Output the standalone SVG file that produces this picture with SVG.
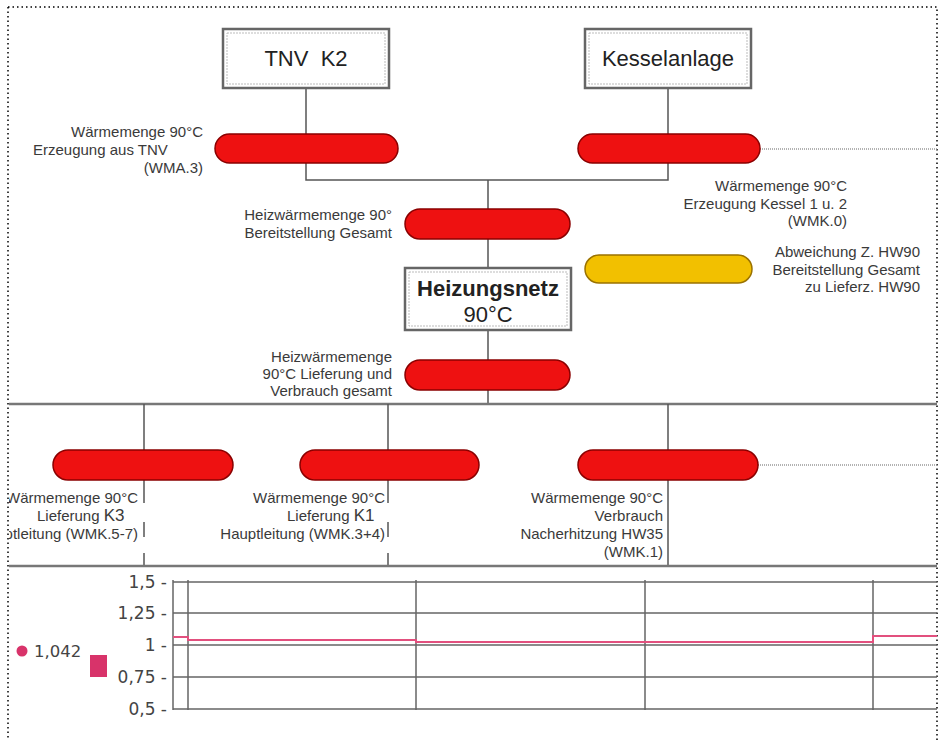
<svg xmlns="http://www.w3.org/2000/svg" width="944" height="740" viewBox="0 0 944 740">
<style>
.lbl{font-family:"Liberation Sans",Arial,sans-serif;font-size:15px;fill:#3a3a3a}
.box{fill:#fff;stroke:#666;stroke-width:2.5}
.boxin{fill:none;stroke:#bbb;stroke-width:1;stroke-dasharray:2,1}
.bt{font-family:"Liberation Sans",Arial,sans-serif;font-size:22px;fill:#222;text-anchor:middle}
.pill{fill:#ee1111;stroke:#8a0000;stroke-width:1.5}
.pilly{fill:#f2c000;stroke:#9a7200;stroke-width:1.5}
.ln{stroke:#555;stroke-width:1.5;fill:none}
.thick{stroke:#777;stroke-width:2.5;fill:none}
.dot{stroke:#999;stroke-width:1.5;stroke-dasharray:1,1;fill:none}
.grid{stroke:#666;stroke-width:1.5;fill:none}
.ax{font-family:"DejaVu Sans",sans-serif;font-size:17px;fill:#444;text-anchor:end}
</style>
<defs>
<clipPath id="frame"><rect x="9" y="8" width="928" height="732"/></clipPath>
</defs>
<rect x="0" y="0" width="944" height="740" fill="#fff"/>
<path d="M8 7H937V740M8 7V740" fill="none" stroke="#000" stroke-width="1.5" stroke-dasharray="1.5,3"/>

<g id="connectors">
<path class="ln" d="M306 88V180H668V88"/>
<path class="ln" d="M488 180V268M488 330V404"/>
<path class="thick" d="M9 404H937"/>
<path class="ln" d="M144 404V503M144 522V537M144 553V566M388 404V503M388 522V537M388 553V566M668 404V566"/>
<path class="thick" d="M9 566H937"/>
<path class="dot" d="M760 149H937M758 465H937"/>
</g>

<g id="tnv">
<rect class="box" x="223" y="29" width="166" height="59"/>
<rect class="boxin" x="227" y="33" width="158" height="51"/>
<text class="bt" x="306" y="66" xml:space="preserve">TNV  K2</text>
</g>
<g id="kessel">
<rect class="box" x="585" y="29" width="166" height="59"/>
<rect class="boxin" x="589" y="33" width="158" height="51"/>
<text class="bt" x="668" y="66">Kesselanlage</text>
</g>
<g id="heizungsnetz">
<rect class="box" x="405" y="268" width="166" height="62"/>
<rect class="boxin" x="409" y="272" width="158" height="54"/>
<text class="bt" x="488" y="296" font-weight="bold" fill="#333" font-size="21">Heizungsnetz</text>
<text class="bt" x="488" y="322">90°C</text>
</g>

<g id="wma3">
<rect class="pill" x="215" y="134" width="183" height="29" rx="14.5"/>
<text class="lbl" x="203" y="137" text-anchor="end">Wärmemenge 90°C</text>
<text class="lbl" x="33" y="155">Erzeugung aus TNV</text>
<text class="lbl" x="203" y="173" text-anchor="end">(WMA.3)</text>
</g>
<g id="wmk0">
<rect class="pill" x="578" y="134" width="182" height="29" rx="14.5"/>
<text class="lbl" x="847" y="191" text-anchor="end">Wärmemenge 90°C</text>
<text class="lbl" x="847" y="209" text-anchor="end">Erzeugung Kessel 1 u. 2</text>
<text class="lbl" x="847" y="226" text-anchor="end">(WMK.0)</text>
</g>
<g id="bereitstellung">
<rect class="pill" x="405" y="209" width="165" height="30" rx="15"/>
<text class="lbl" x="392" y="220" text-anchor="end">Heizwärmemenge 90°</text>
<text class="lbl" x="392" y="238" text-anchor="end">Bereitstellung Gesamt</text>
</g>
<g id="abweichung">
<rect class="pilly" x="585" y="255" width="167" height="28" rx="14"/>
<text class="lbl" x="920" y="257" text-anchor="end">Abweichung Z. HW90</text>
<text class="lbl" x="920" y="275" text-anchor="end">Bereitstellung Gesamt</text>
<text class="lbl" x="920" y="292" text-anchor="end">zu Lieferz. HW90</text>
</g>
<g id="lieferung-gesamt">
<rect class="pill" x="405" y="360" width="165" height="30" rx="15"/>
<text class="lbl" x="392" y="362" text-anchor="end">Heizwärmemenge</text>
<text class="lbl" x="392" y="379" text-anchor="end">90°C Lieferung und</text>
<text class="lbl" x="392" y="396" text-anchor="end">Verbrauch gesamt</text>
</g>
<g id="k3" clip-path="url(#frame)">
<rect class="pill" x="53" y="450" width="180" height="30" rx="15"/>
<text class="lbl" x="138" y="503" text-anchor="end">Wärmemenge 90°C</text>
<text class="lbl" x="37" y="521">Lieferung <tspan font-size="17">K3</tspan></text>
<text class="lbl" x="138" y="539" text-anchor="end">Hauptleitung (WMK.5-7)</text>
</g>
<g id="k1">
<rect class="pill" x="300" y="450" width="179" height="30" rx="15"/>
<text class="lbl" x="385" y="503" text-anchor="end">Wärmemenge 90°C</text>
<text class="lbl" x="287" y="521">Lieferung <tspan font-size="17">K1</tspan></text>
<text class="lbl" x="385" y="539" text-anchor="end">Hauptleitung (WMK.3+4)</text>
</g>
<g id="hw35">
<rect class="pill" x="578" y="450" width="180" height="30" rx="15"/>
<text class="lbl" x="663" y="503" text-anchor="end">Wärmemenge 90°C</text>
<text class="lbl" x="663" y="521" text-anchor="end">Verbrauch</text>
<text class="lbl" x="663" y="539" text-anchor="end">Nacherhitzung HW35</text>
<text class="lbl" x="663" y="557" text-anchor="end">(WMK.1)</text>
</g>

<g id="chart">
<path class="grid" d="M173 582H937M173 613H937M173 645H937M173 677H937M173 709H937"/>
<path class="grid" d="M173 580V710M188 580V710M416 580V710M645 580V710M873 580V710"/>
<path d="M173 637H188V640H416V642H873V636H937" fill="none" stroke="#e2507e" stroke-width="2"/>
<text class="ax" x="167" y="588">1,5 -</text>
<text class="ax" x="167" y="619">1,25 -</text>
<text class="ax" x="167" y="651">1 -</text>
<text class="ax" x="167" y="683">0,75 -</text>
<text class="ax" x="167" y="715">0,5 -</text>
<circle cx="22" cy="651" r="5.5" fill="#d8336a"/>
<text x="34" y="657" font-family="DejaVu Sans,sans-serif" font-size="16.5" fill="#444">1,042</text>
<rect x="90" y="655" width="17" height="22" fill="#d8336a"/>
</g>
</svg>
